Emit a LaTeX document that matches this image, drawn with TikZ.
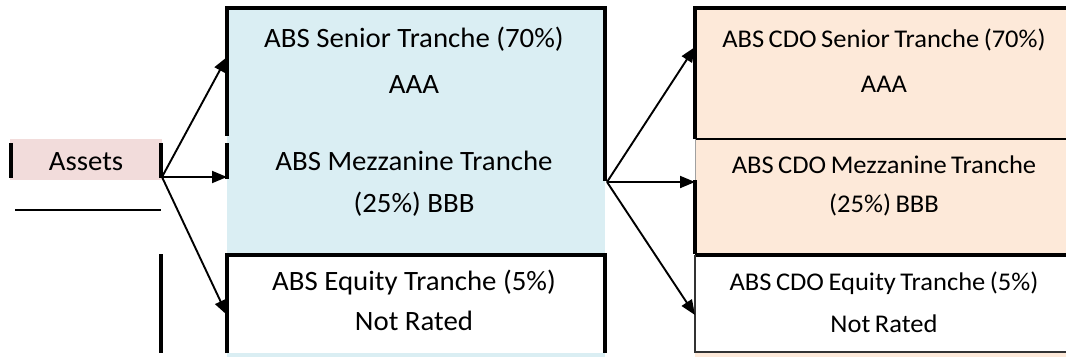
\documentclass[tikz,border=0pt]{standalone}
\usepackage{fontspec}
\setmainfont{Carlito}
\newfontfamily\bfam[FakeStretch=1.03]{Carlito}
\newfontfamily\ofam[FakeStretch=1.04,WordSpace=0.75]{Carlito}
\usetikzlibrary{arrows.meta}
\definecolor{blueF}{HTML}{DAEEF3}
\definecolor{pinkF}{HTML}{F2DCDB}
\definecolor{orangeF}{HTML}{FDE9D9}
\definecolor{edgeGray}{HTML}{A0A0A0}
\tikzset{
  border/.style={line width=3.2pt, line cap=rect},
  thinborder/.style={line width=2.2pt},
  conn/.style={line width=1.9pt, -{Triangle[length=15pt,width=12pt]}},
  btext/.style={anchor=base, inner sep=0pt, font=\bfam\fontsize{28}{30}\selectfont},
  otext/.style={anchor=base, inner sep=0pt, font=\ofam\fontsize{25.5}{28}\selectfont},
  assetbox/.style={fill=pinkF, minimum width=152pt, minimum height=41pt, inner sep=0pt,
    text height=21pt, text depth=0pt, font=\bfam\fontsize{28}{30}\selectfont}
}
\begin{document}
\begin{tikzpicture}[x=1pt,y=-1pt]
\useasboundingbox (0,0) rectangle (1066,357);
% assets
\node[assetbox] (assets) at (86,159.5) {Assets};
\draw[border, line cap=butt] (11,143) -- (11,178);
\draw[border, line cap=butt] (161,143) -- (161,178);
\draw[thinborder] (15,210) -- (161,210);
\draw[border, line cap=butt] (161,254) -- (161,353);
% blue ABS block
\fill[blueF] (227,8) rectangle (605,357);
\fill[white] (227,255) rectangle (605,353);
\draw[border] (227,134) -- (227,8) -- (605,8) -- (605,179);
\draw[border, line cap=butt] (227,143) -- (227,179);
\draw[border, line cap=butt] (227,353) -- (227,255) -- (605,255) -- (605,353);
% orange ABS CDO block
\fill[orangeF] (695,8) rectangle (1066,357);
\fill[white] (695,255) rectangle (1066,352);
\draw[border, line cap=butt] (695,139) -- (695,8) -- (1066,8);
\draw[thinborder] (695,139) -- (1066,139);
\draw[line width=0.8pt, edgeGray] (695,139) -- (695,180);
\draw[border, line cap=butt] (695,180) -- (695,254);
\draw[border, line cap=butt] (695,255) -- (1066,255);
\draw[thinborder, black!80] (695,255) -- (695,352) -- (1066,352);
% texts
\node[btext] (bsen) at (414,47) {ABS Senior Tranche (70\%)};
\node[btext] (bsenr) at (414,93) {AAA};
\node[btext] (bmez) at (414,170) {ABS Mezzanine Tranche};
\node[btext] (bmezr) at (414,212) {(25\%) BBB};
\node[btext] (beq) at (414,290) {ABS Equity Tranche (5\%)};
\node[btext] (beqr) at (414,330) {Not Rated};
\node[otext] (osen) at (884,47) {ABS CDO Senior Tranche (70\%)};
\node[otext] (osenr) at (884,92) {AAA};
\node[otext] (omez) at (884,173) {ABS CDO Mezzanine Tranche};
\node[otext] (omezr) at (884,212) {(25\%) BBB};
\node[otext] (oeq) at (884,290) {ABS CDO Equity Tranche (5\%)};
\node[otext] (oeqr) at (884,332) {Not Rated};
% connector end points
\coordinate (asrc) at (162,177);
\coordinate (bsenIn) at (227,57);
\coordinate (bmezIn) at (227,177);
\coordinate (beqIn) at (227,315);
\coordinate (bsrc) at (607,182);
\coordinate (osenIn) at (695,47);
\coordinate (omezIn) at (695,182);
\coordinate (oeqIn) at (695,315);
\draw[conn] (asrc) -- (bsenIn);
\draw[conn] (asrc) -- (bmezIn);
\draw[conn] (asrc) -- (beqIn);
\draw[conn] (bsrc) -- (osenIn);
\draw[conn] (bsrc) -- (omezIn);
\draw[conn] (bsrc) -- (oeqIn);
\end{tikzpicture}
\end{document}
